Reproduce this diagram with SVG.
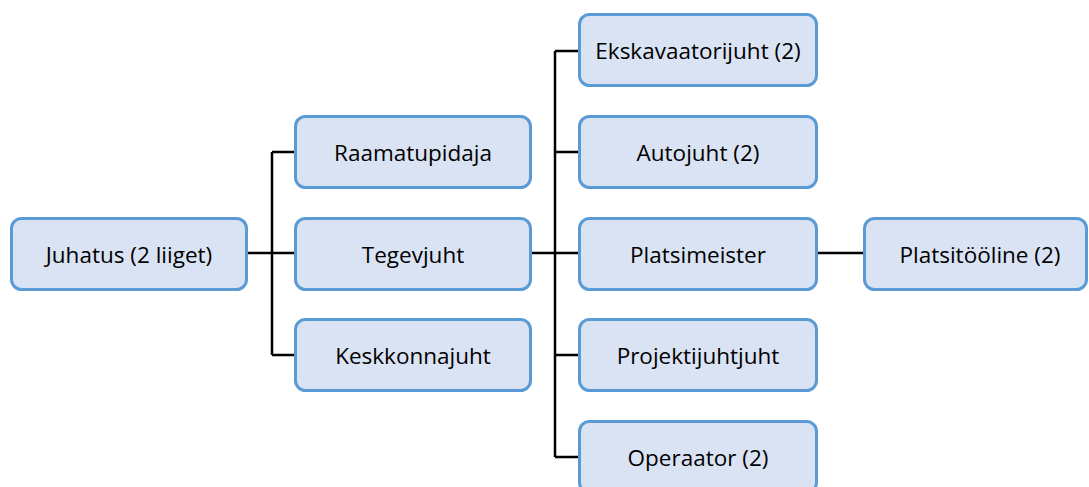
<svg xmlns="http://www.w3.org/2000/svg" width="1089" height="487" viewBox="0 0 1089 487">
<style>
.box{fill:#DAE3F3;stroke:#5B9BD5;stroke-width:3}
.lbl{font-family:"Open Sans","Noto Sans",sans-serif;font-size:22.5px;fill:#000;text-anchor:middle;dominant-baseline:central}
.ln{fill:none;stroke:#000;stroke-width:2.5}
</style>
<rect width="1089" height="487" fill="#fff"/>
<g id="connectors">
<path class="ln" d="M248 253H294M272 152V355M272 152H294M272 355H294"/>
<path class="ln" d="M532 253H578M555 51V457M555 51H578M555 152H578M555 355H578M555 457H578"/>
<path class="ln" d="M818 253H863"/>
</g>
<g id="juhatus"><rect class="box" x="11.5" y="218.5" width="235" height="71" rx="10"/><text class="lbl" x="129" y="254">Juhatus (2 liiget)</text></g>
<g id="raamatupidaja"><rect class="box" x="295.5" y="116.5" width="235" height="71" rx="10"/><text class="lbl" x="413" y="152">Raamatupidaja</text></g>
<g id="tegevjuht"><rect class="box" x="295.5" y="218.5" width="235" height="71" rx="10"/><text class="lbl" x="413" y="254">Tegevjuht</text></g>
<g id="keskkonnajuht"><rect class="box" x="295.5" y="319.5" width="235" height="71" rx="10"/><text class="lbl" x="413" y="355">Keskkonnajuht</text></g>
<g id="ekskavaatorijuht"><rect class="box" x="579.5" y="14.5" width="237" height="71" rx="10"/><text class="lbl" x="698" y="50">Ekskavaatorijuht (2)</text></g>
<g id="autojuht"><rect class="box" x="579.5" y="116.5" width="237" height="71" rx="10"/><text class="lbl" x="698" y="152">Autojuht (2)</text></g>
<g id="platsimeister"><rect class="box" x="579.5" y="218.5" width="237" height="71" rx="10"/><text class="lbl" x="698" y="254">Platsimeister</text></g>
<g id="projektijuhtjuht"><rect class="box" x="579.5" y="319.5" width="237" height="71" rx="10"/><text class="lbl" x="698" y="355">Projektijuhtjuht</text></g>
<g id="operaator"><rect class="box" x="579.5" y="421.5" width="237" height="71" rx="10"/><text class="lbl" x="698" y="457">Operaator (2)</text></g>
<g id="platsitooline"><rect class="box" x="864.5" y="218.5" width="222" height="71" rx="10"/><text class="lbl" x="980" y="254">Platsitööline (2)</text></g>
</svg>
